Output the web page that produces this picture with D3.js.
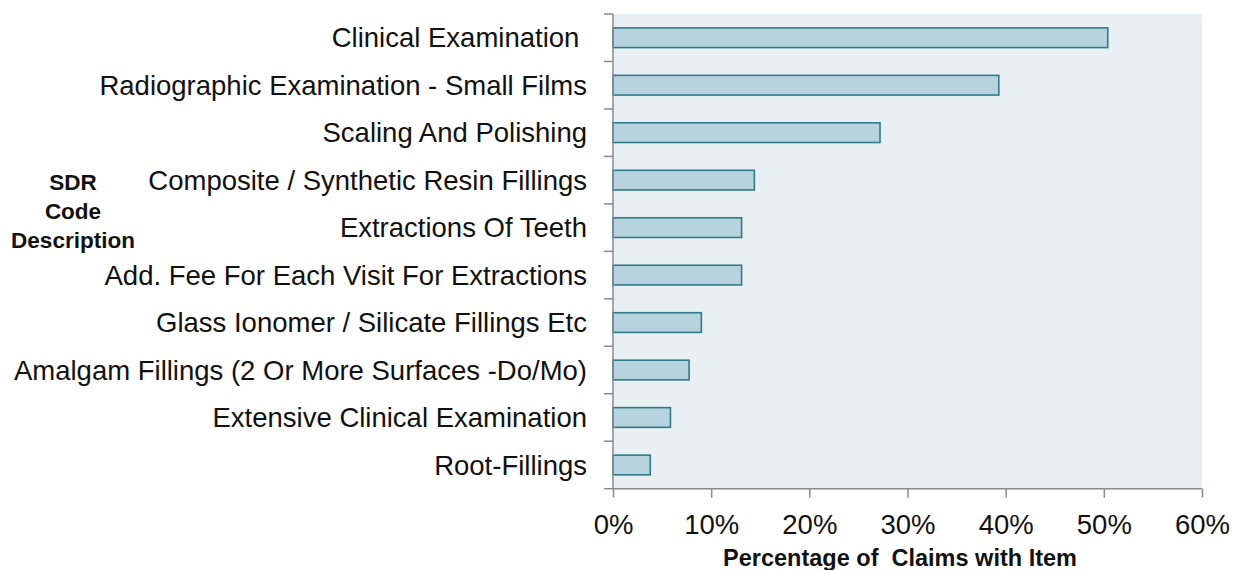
<!DOCTYPE html>
<html><head><meta charset="utf-8">
<script src="https://cdn.jsdelivr.net/npm/d3@7"></script>
<style>body{margin:0;background:#fff;} svg{display:block;}</style>
</head><body>
<svg id="c" width="1238" height="570"></svg>
<script>
const categories = [
  "Clinical Examination\u00a0",
  "Radiographic Examination - Small Films",
  "Scaling And Polishing",
  "Composite / Synthetic Resin Fillings",
  "Extractions Of Teeth",
  "Add. Fee For Each Visit For Extractions",
  "Glass Ionomer / Silicate Fillings Etc",
  "Amalgam Fillings (2 Or More Surfaces -Do/Mo)",
  "Extensive Clinical Examination",
  "Root-Fillings"
];
const values = [50.4, 39.3, 27.2, 14.4, 13.1, 13.1, 9.0, 7.75, 5.85, 3.8];
const xTicks = [0, 10, 20, 30, 40, 50, 60];
const xTitle = "Percentage of  Claims with Item";
const yTitle = ["SDR", "Code", "Description"];

const svg = d3.select("#c");
const m = {left: 613, top: 14, right: 1202, bottom: 488.7};
const font = "'Liberation Sans', Arial, sans-serif";

const x = d3.scaleLinear().domain([0, 60]).range([m.left, m.right]);
const y = d3.scaleBand().domain(categories).range([m.top, m.bottom]).paddingInner(0.585).paddingOuter(0.2925);

svg.append("rect").attr("x", m.left).attr("y", m.top)
  .attr("width", m.right - m.left).attr("height", m.bottom - m.top)
  .attr("fill", "#e8f0f3");

svg.append("g").selectAll("rect").data(values).join("rect")
  .attr("x", x(0))
  .attr("y", (d, i) => y(categories[i]))
  .attr("width", d => x(d) - x(0))
  .attr("height", y.bandwidth())
  .attr("fill", "#b7d4de")
  .attr("stroke", "#31798b")
  .attr("stroke-width", 1.6);

// y axis
const yAxis = svg.append("g").attr("transform", `translate(${m.left},0)`);
yAxis.append("line").attr("x1", 0).attr("x2", 0).attr("y1", m.top).attr("y2", m.bottom)
  .attr("stroke", "#8a8a8a").attr("stroke-width", 1.5);
const bounds = d3.range(categories.length + 1).map(i => m.top + i * (m.bottom - m.top) / categories.length);
yAxis.selectAll("line.t").data(bounds).join("line").attr("class", "t")
  .attr("x1", -9).attr("x2", 0).attr("y1", d => d).attr("y2", d => d)
  .attr("stroke", "#8a8a8a").attr("stroke-width", 1.5);
yAxis.selectAll("text").data(categories).join("text")
  .attr("x", -26).attr("y", d => y(d) + y.bandwidth() / 2)
  .attr("dy", "0.35em").attr("text-anchor", "end")
  .attr("font-family", font).attr("font-size", 27.5).attr("fill", "#111")
  .style("white-space", "pre")
  .text(d => d);

// x axis
const xAxis = svg.append("g").attr("transform", `translate(0,${m.bottom})`)
  .call(d3.axisBottom(x).tickValues(xTicks).tickFormat(d => d + "%").tickSize(9).tickPadding(17));
xAxis.select(".domain").attr("stroke", "#8a8a8a").attr("stroke-width", 1.5).attr("d", `M${m.left},0H${m.right}`);
xAxis.selectAll(".tick line").attr("stroke", "#8a8a8a").attr("stroke-width", 1.5);
xAxis.selectAll(".tick text").attr("font-family", font).attr("font-size", 27.5).attr("fill", "#111");

svg.append("text").attr("x", 900).attr("y", 566).attr("text-anchor", "middle")
  .attr("font-family", font).attr("font-size", 23.5).attr("font-weight", "bold").attr("fill", "#111")
  .style("white-space", "pre").text(xTitle);

svg.append("g").selectAll("text").data(yTitle).join("text")
  .attr("x", 73).attr("y", (d, i) => 190 + i * 29).attr("text-anchor", "middle")
  .attr("font-family", font).attr("font-size", 22.5).attr("font-weight", "bold").attr("fill", "#111")
  .text(d => d);
</script>
</body></html>
